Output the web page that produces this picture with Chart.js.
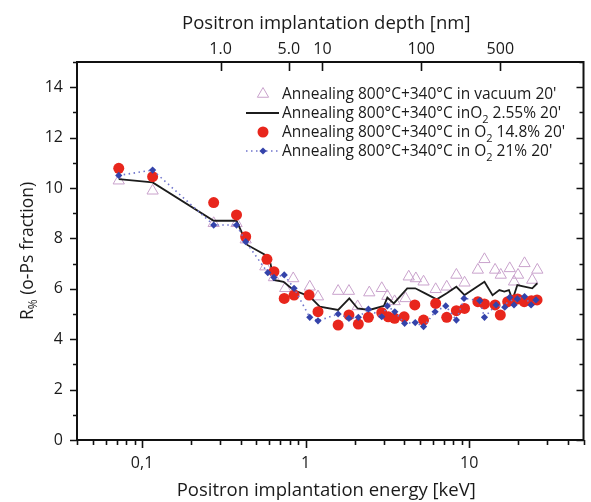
<!DOCTYPE html>
<html><head><meta charset="utf-8">
<script src="https://cdn.jsdelivr.net/npm/chart.js@4/dist/chart.umd.min.js"></script>
<style>html,body{margin:0;padding:0;background:#fff;overflow:hidden}canvas{display:block}</style>
</head><body>
<canvas id="c" width="591" height="502"></canvas>
<script>
// ---- data ----
const seriesLabels = [
  "Annealing 800°C+340°C in vacuum 20'",
  "Annealing 800°C+340°C inO₂ 2.55% 20'",
  "Annealing 800°C+340°C in O₂ 14.8% 20'",
  "Annealing 800°C+340°C in O₂ 21% 20'"
];
const vacE = [0.072,0.116,0.274,0.378,0.43,0.567,0.64,0.75,0.84,1.06,1.19,1.58,1.84,2.08,2.45,2.92,3.16,3.5,4.08,4.27,4.72,5.26,6.24,7.29,8.35,9.37,11.3,12.4,14.4,15.6,17.7,18.8,19.9,21.8,24.3,26.1];
const vacR = [10.29,9.89,8.6,8.6,7.95,6.88,6.45,6.02,6.41,6.08,5.69,5.91,5.91,5.3,5.85,6.02,5.71,5.5,5.62,6.48,6.41,6.28,5.98,6.08,6.55,6.24,6.75,7.17,6.75,6.55,6.81,6.28,6.55,7.01,6.35,6.75];
const lowE = [0.072,0.116,0.274,0.378,0.44,0.567,0.61,0.638,0.733,0.843,1.06,1.22,1.58,1.85,2.08,2.45,3.01,3.16,3.46,4.18,4.68,5.38,6.33,7.29,8.35,9.37,12.4,13.9,15.3,16.4,17.5,18.4,19.7,22.1,24.3,26.1];
const lowR = [10.35,10.22,8.70,8.70,7.74,7.34,7.0,6.35,6.28,5.95,5.69,5.29,5.16,5.62,5.22,5.16,5.32,5.65,5.42,6.02,6.02,5.82,5.58,5.82,6.08,5.75,6.28,5.75,5.95,5.89,5.95,5.56,6.15,6.08,6.02,6.22];
const midE = [0.072,0.116,0.274,0.378,0.43,0.58,0.64,0.74,0.85,1.05,1.19,1.58,1.84,2.1,2.42,2.92,3.2,3.5,4.0,4.65,5.26,6.24,7.29,8.35,9.37,11.3,12.4,14.4,15.5,17.2,18.8,19.8,21.7,24.0,26.0];
const midR = [10.78,10.45,9.42,8.93,8.07,7.17,6.68,5.62,5.75,5.75,5.09,4.56,4.96,4.6,4.87,5.05,4.89,4.83,4.89,5.36,4.76,5.42,4.87,5.13,5.22,5.49,5.4,5.36,4.96,5.49,5.56,5.6,5.49,5.53,5.56];
const hiE = [0.072,0.116,0.274,0.378,0.43,0.587,0.64,0.74,0.85,1.06,1.19,1.58,1.84,2.1,2.42,2.92,3.16,3.51,4.03,4.68,5.26,6.19,7.19,8.35,9.3,11.6,12.4,14.6,16.5,17.7,18.8,19.7,21.8,23.9,25.6];
const hiR = [10.5,10.71,8.53,8.53,7.87,6.64,6.45,6.55,6.02,4.87,4.73,5.0,4.83,4.87,5.19,4.89,5.32,5.09,4.63,4.66,4.5,5.09,5.32,4.76,5.62,5.53,4.87,5.36,5.27,5.66,5.36,5.6,5.69,5.36,5.56];

const xTickValues = [0.1, 1, 10];
const xTickLabels = ['0,1', '1', '10'];
const yTickValues = [0, 2, 4, 6, 8, 10, 12, 14];
const depthEnergies = [0.302, 0.789, 1.267, 5.09, 15.5];
const depthLabels = ['1.0', '5.0', '10', '100', '500'];

const FONT = "'Open Sans', 'Noto Sans', sans-serif";
const pts = (xs, ys) => xs.map((v, i) => ({x: v, y: ys[i]}));

const styles = [
  {showLine:false, pointStyle:'triangle', pointRadius:6.5, borderWidth:1, borderColor:'#c9a2cc', backgroundColor:'rgba(0,0,0,0)', order:4},
  {showLine:true, pointRadius:0, borderColor:'#1c1c1c', borderWidth:1.8, order:3},
  {showLine:false, pointStyle:'circle', pointRadius:5.5, borderWidth:0, backgroundColor:'#e8261c', borderColor:'#e8261c', order:2},
  {showLine:true, borderColor:'#6f74cc', borderWidth:1.6, borderDash:[1.5,3.5], pointStyle:'rectRot', pointRadius:3.6, pointBorderWidth:0, pointBackgroundColor:'#3443aa', pointBorderColor:'#3443aa', order:1}
];
const data = [pts(vacE,vacR), pts(lowE,lowR), pts(midE,midR), pts(hiE,hiR)];

function drawSubText(ctx, text, x, y, size, align) {
  const parts = [];
  let buf = '';
  for (const ch of text) {
    if (ch === '₂') { if (buf) parts.push({t:buf, sub:false}); buf=''; parts.push({t:'2', sub:true}); }
    else buf += ch;
  }
  if (buf) parts.push({t:buf, sub:false});
  const big = size + 'px ' + FONT, small = Math.round(size*0.68) + 'px ' + FONT;
  let total = 0;
  for (const p of parts) { ctx.font = p.sub ? small : big; total += ctx.measureText(p.t).width; }
  let cx = align === 'center' ? x - total/2 : x;
  ctx.textAlign = 'left';
  ctx.textBaseline = 'alphabetic';
  for (const p of parts) {
    ctx.font = p.sub ? small : big;
    ctx.fillText(p.t, cx, p.sub ? y + size*0.3 : y);
    cx += ctx.measureText(p.t).width;
  }
}

const deco = {
  id: 'deco',
  afterDraw(chart) {
    const {ctx, chartArea: a, scales} = chart;
    const x = scales.x, y = scales.y, x2 = scales.x2;
    ctx.save();
    ctx.strokeStyle = '#111';
    ctx.fillStyle = '#1a1a1a';
    ctx.lineWidth = 1.6;
    ctx.beginPath();
    for (let d = 0.01; d < 100; d *= 10) {
      for (let m = 1; m <= 9; m++) {
        const v = m * d;
        if (v < 0.04 * 0.999 || v > 50 * 1.001) continue;
        const px = Math.round(x.getPixelForValue(v)) + 0.5;
        const len = m === 1 ? 8 : 5;
        ctx.moveTo(px, a.bottom); ctx.lineTo(px, a.bottom + len);
      }
    }
    for (let v = 0; v <= 15; v++) {
      const py = Math.round(y.getPixelForValue(v)) + 0.5;
      const len = v % 2 === 0 ? 7 : 4;
      ctx.moveTo(a.left, py); ctx.lineTo(a.left - len, py);
      ctx.moveTo(a.right, py); ctx.lineTo(a.right - len, py);
    }
    for (const v of depthEnergies) {
      const px = Math.round(x2.getPixelForValue(v)) + 0.5;
      ctx.moveTo(px, a.top); ctx.lineTo(px, a.top + 9);
    }
    ctx.stroke();
    ctx.lineWidth = 2;
    ctx.strokeRect(a.left, a.top, a.right - a.left, a.bottom - a.top);

    ctx.fillStyle = '#1a1a1a';
    const cxm = (a.left + a.right) / 2;
    drawSubText(ctx, 'Positron implantation depth [nm]', cxm - 4, 29, 18.5, 'center');
    drawSubText(ctx, 'Positron implantation energy [keV]', cxm - 4, 496, 18.5, 'center');
    ctx.save();
    ctx.translate(33, (a.top + a.bottom) / 2);
    ctx.rotate(-Math.PI / 2);
    const big = '17.5px ' + FONT, small = '12px ' + FONT;
    ctx.font = big; const w1 = ctx.measureText('R').width;
    ctx.font = small; const w2 = ctx.measureText('%').width;
    ctx.font = big; const w3 = ctx.measureText(' (o-Ps fraction)').width;
    let sx = -(w1 + w2 + w3) / 2;
    ctx.textAlign = 'left'; ctx.textBaseline = 'alphabetic';
    ctx.font = big; ctx.fillText('R', sx, 0); sx += w1;
    ctx.font = small; ctx.fillText('%', sx, 4); sx += w2;
    ctx.font = big; ctx.fillText(' (o-Ps fraction)', sx, 0);
    ctx.restore();

    // legend
    const lx = 282, ly0 = 99, dy = 19;
    seriesLabels.forEach((lab, i) => {
      const st = styles[i];
      const yy = ly0 + i * dy;
      const my = yy - 5;
      ctx.save();
      if (st.showLine) {
        ctx.strokeStyle = st.borderColor;
        ctx.lineWidth = st.borderWidth;
        if (st.borderDash) ctx.setLineDash(st.borderDash);
        ctx.beginPath(); ctx.moveTo(246, my); ctx.lineTo(279, my); ctx.stroke();
        ctx.setLineDash([]);
      }
      if (st.pointStyle) {
        const isLine = !!st.showLine;
        ctx.fillStyle = isLine ? st.pointBackgroundColor : st.backgroundColor;
        ctx.strokeStyle = isLine ? st.pointBorderColor : st.borderColor;
        const bw = isLine ? 0 : st.borderWidth;
        ctx.lineWidth = bw;
        Chart.helpers.drawPoint(ctx, {pointStyle: st.pointStyle, radius: st.pointRadius, borderWidth: bw, rotation: 0}, 263, my);
      }
      ctx.restore();
      ctx.fillStyle = '#1a1a1a';
      drawSubText(ctx, lab, lx, yy, 15.5, 'left');
    });
    ctx.restore();
  }
};

new Chart(document.getElementById('c'), {
  type: 'scatter',
  data: {
    datasets: data.map((d, i) => Object.assign({label: seriesLabels[i], data: d}, styles[i]))
  },
  options: {
    responsive: false,
    animation: false,
    devicePixelRatio: 1,
    events: [],
    layout: {padding: {left: 0, right: 2, top: 0, bottom: 0}},
    plugins: {legend: {display: false}, tooltip: {enabled: false}},
    scales: {
      x: {
        type: 'logarithmic', position: 'bottom', min: 0.04, max: 50,
        grid: {display: false, drawTicks: false},
        border: {display: false},
        afterBuildTicks: s => { s.ticks = xTickValues.map(v => ({value: v})); },
        afterFit: s => { s.height = 62; },
        ticks: {
          autoSkip: false, maxRotation: 0, padding: 14, color: '#1a1a1a',
          font: {family: FONT, size: 16},
          callback: (v, i) => xTickLabels[i]
        }
      },
      x2: {
        type: 'logarithmic', position: 'top', min: 0.04, max: 50,
        grid: {display: false, drawTicks: false},
        border: {display: false},
        afterBuildTicks: s => { s.ticks = depthEnergies.map(v => ({value: v})); },
        afterFit: s => { s.height = 62; },
        ticks: {
          autoSkip: false, maxRotation: 0, padding: 3, color: '#1a1a1a',
          font: {family: FONT, size: 16},
          callback: (v, i) => depthLabels[i]
        }
      },
      y: {
        type: 'linear', min: 0, max: 15,
        grid: {display: false, drawTicks: false},
        border: {display: false},
        afterBuildTicks: s => { s.ticks = yTickValues.map(v => ({value: v})); },
        afterFit: s => { s.width = 77; },
        ticks: {padding: 14, color: '#1a1a1a', font: {family: FONT, size: 16}, callback: v => String(v)}
      }
    }
  },
  plugins: [deco]
});
</script>
</body></html>
